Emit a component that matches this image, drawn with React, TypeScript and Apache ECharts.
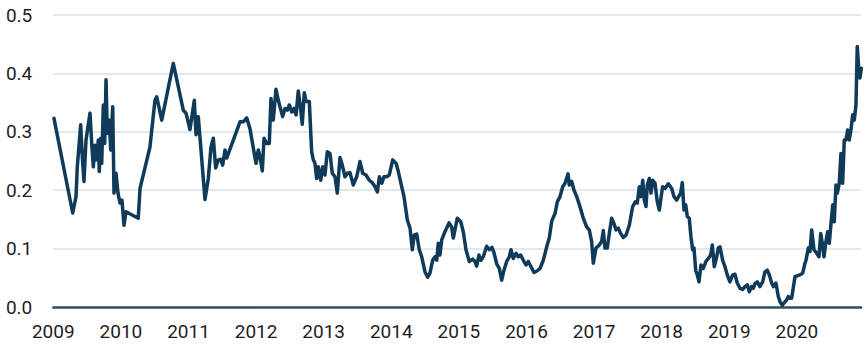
import React, { useEffect, useRef } from "react";
import * as echarts from "echarts";

// Decimal years (x) and series values (y)
const years: number[] = [
  2009.010, 2009.287, 2009.336, 2009.355, 2009.405, 2009.429, 2009.454, 2009.484, 2009.543, 2009.568,
  2009.592, 2009.617, 2009.642, 2009.666, 2009.680, 2009.701, 2009.716, 2009.740, 2009.760, 2009.780,
  2009.799, 2009.828, 2009.849, 2009.879, 2009.898, 2009.928, 2009.957, 2009.987, 2010.016, 2010.046,
  2010.075, 2010.257, 2010.283, 2010.430, 2010.504, 2010.530, 2010.604, 2010.775, 2010.923, 2010.963,
  2011.022, 2011.086, 2011.111, 2011.145, 2011.244, 2011.293, 2011.333, 2011.367, 2011.402, 2011.441,
  2011.476, 2011.506, 2011.540, 2011.565, 2011.762, 2011.811, 2011.861, 2011.910, 2011.959, 2011.999,
  2012.033, 2012.058, 2012.092, 2012.117, 2012.157, 2012.195, 2012.220, 2012.254, 2012.294, 2012.328,
  2012.393, 2012.428, 2012.462, 2012.491, 2012.527, 2012.561, 2012.592, 2012.624, 2012.649, 2012.683,
  2012.713, 2012.738, 2012.787, 2012.822, 2012.846, 2012.871, 2012.896, 2012.920, 2012.956, 2012.985,
  2013.019, 2013.053, 2013.093, 2013.127, 2013.167, 2013.201, 2013.241, 2013.275, 2013.315, 2013.349,
  2013.389, 2013.438, 2013.488, 2013.537, 2013.577, 2013.626, 2013.675, 2013.725, 2013.760, 2013.794,
  2013.824, 2013.860, 2013.892, 2013.932, 2013.970, 2014.021, 2014.070, 2014.104, 2014.154, 2014.188,
  2014.237, 2014.277, 2014.311, 2014.340, 2014.376, 2014.414, 2014.450, 2014.499, 2014.538, 2014.572,
  2014.612, 2014.646, 2014.672, 2014.695, 2014.720, 2014.746, 2014.794, 2014.854, 2014.893, 2014.917,
  2014.942, 2014.976, 2015.027, 2015.065, 2015.105, 2015.154, 2015.204, 2015.238, 2015.263, 2015.297,
  2015.327, 2015.361, 2015.411, 2015.450, 2015.490, 2015.519, 2015.559, 2015.598, 2015.633, 2015.667,
  2015.707, 2015.746, 2015.771, 2015.805, 2015.845, 2015.879, 2015.914, 2015.953, 2015.993, 2016.027,
  2016.067, 2016.111, 2016.160, 2016.200, 2016.249, 2016.299, 2016.337, 2016.373, 2016.422, 2016.456,
  2016.496, 2016.536, 2016.570, 2016.615, 2016.633, 2016.669, 2016.703, 2016.743, 2016.791, 2016.840,
  2016.890, 2016.929, 2016.964, 2016.988, 2017.028, 2017.077, 2017.112, 2017.136, 2017.161, 2017.195,
  2017.225, 2017.260, 2017.294, 2017.324, 2017.358, 2017.393, 2017.432, 2017.472, 2017.521, 2017.571,
  2017.609, 2017.639, 2017.669, 2017.694, 2017.720, 2017.743, 2017.768, 2017.787, 2017.817, 2017.842,
  2017.867, 2017.901, 2017.935, 2017.965, 2018.013, 2018.049, 2018.097, 2018.148, 2018.182, 2018.222,
  2018.281, 2018.305, 2018.330, 2018.355, 2018.379, 2018.408, 2018.433, 2018.459, 2018.478, 2018.503,
  2018.527, 2018.552, 2018.581, 2018.615, 2018.655, 2018.689, 2018.725, 2018.749, 2018.778, 2018.814,
  2018.837, 2018.862, 2018.902, 2018.936, 2018.970, 2019.010, 2019.050, 2019.084, 2019.118, 2019.158,
  2019.198, 2019.232, 2019.266, 2019.296, 2019.331, 2019.355, 2019.380, 2019.414, 2019.453, 2019.494,
  2019.527, 2019.562, 2019.592, 2019.627, 2019.651, 2019.691, 2019.725, 2019.750, 2019.784, 2019.824,
  2019.849, 2019.873, 2019.898, 2019.923, 2019.972, 2020.046, 2020.086, 2020.120, 2020.135, 2020.169,
  2020.194, 2020.219, 2020.253, 2020.293, 2020.327, 2020.353, 2020.376, 2020.401, 2020.430, 2020.456,
  2020.479, 2020.505, 2020.530, 2020.553, 2020.578, 2020.598, 2020.627, 2020.652, 2020.677, 2020.701,
  2020.726, 2020.751, 2020.775, 2020.800, 2020.825, 2020.849, 2020.874, 2020.893, 2020.914, 2020.933,
  2020.953,
];

const values: number[] = [
  0.323, 0.161, 0.189, 0.240, 0.312, 0.257, 0.215, 0.286, 0.332, 0.280,
  0.240, 0.277, 0.252, 0.286, 0.232, 0.289, 0.246, 0.346, 0.280, 0.389,
  0.297, 0.320, 0.269, 0.343, 0.195, 0.229, 0.195, 0.178, 0.183, 0.140,
  0.163, 0.152, 0.203, 0.274, 0.354, 0.360, 0.320, 0.417, 0.337, 0.332,
  0.304, 0.354, 0.295, 0.326, 0.184, 0.220, 0.274, 0.289, 0.238, 0.252,
  0.253, 0.243, 0.269, 0.255, 0.317, 0.317, 0.324, 0.305, 0.272, 0.246,
  0.269, 0.257, 0.233, 0.289, 0.280, 0.280, 0.357, 0.320, 0.373, 0.354,
  0.326, 0.340, 0.337, 0.346, 0.334, 0.340, 0.329, 0.370, 0.349, 0.313,
  0.367, 0.352, 0.352, 0.266, 0.252, 0.246, 0.220, 0.240, 0.217, 0.240,
  0.226, 0.266, 0.263, 0.229, 0.223, 0.195, 0.256, 0.243, 0.223, 0.229,
  0.230, 0.209, 0.223, 0.249, 0.229, 0.226, 0.217, 0.212, 0.206, 0.197,
  0.223, 0.212, 0.223, 0.223, 0.226, 0.252, 0.246, 0.232, 0.206, 0.189,
  0.149, 0.135, 0.098, 0.123, 0.125, 0.098, 0.086, 0.060, 0.051, 0.058,
  0.080, 0.086, 0.080, 0.109, 0.089, 0.115, 0.129, 0.144, 0.137, 0.118,
  0.132, 0.152, 0.146, 0.129, 0.098, 0.078, 0.082, 0.078, 0.070, 0.089,
  0.080, 0.086, 0.104, 0.098, 0.102, 0.093, 0.074, 0.066, 0.046, 0.063,
  0.078, 0.086, 0.098, 0.083, 0.092, 0.086, 0.089, 0.080, 0.072, 0.078,
  0.069, 0.059, 0.062, 0.066, 0.080, 0.103, 0.118, 0.147, 0.160, 0.180,
  0.189, 0.206, 0.212, 0.228, 0.209, 0.215, 0.200, 0.189, 0.172, 0.152,
  0.137, 0.132, 0.112, 0.075, 0.101, 0.106, 0.112, 0.131, 0.101, 0.101,
  0.126, 0.152, 0.143, 0.132, 0.135, 0.126, 0.119, 0.123, 0.140, 0.172,
  0.180, 0.178, 0.206, 0.189, 0.217, 0.183, 0.172, 0.209, 0.220, 0.195,
  0.217, 0.212, 0.180, 0.166, 0.206, 0.203, 0.211, 0.203, 0.189, 0.183,
  0.195, 0.213, 0.166, 0.175, 0.155, 0.152, 0.120, 0.098, 0.101, 0.063,
  0.055, 0.043, 0.072, 0.066, 0.078, 0.083, 0.089, 0.106, 0.069, 0.086,
  0.101, 0.103, 0.080, 0.069, 0.055, 0.043, 0.055, 0.056, 0.041, 0.032,
  0.030, 0.035, 0.038, 0.026, 0.035, 0.032, 0.040, 0.043, 0.035, 0.043,
  0.060, 0.063, 0.055, 0.041, 0.035, 0.041, 0.018, 0.009, 0.003, 0.009,
  0.012, 0.018, 0.015, 0.015, 0.052, 0.055, 0.058, 0.075, 0.080, 0.101,
  0.095, 0.132, 0.098, 0.092, 0.086, 0.126, 0.109, 0.086, 0.112, 0.129,
  0.109, 0.143, 0.175, 0.146, 0.209, 0.195, 0.212, 0.263, 0.212, 0.286,
  0.286, 0.303, 0.286, 0.303, 0.329, 0.320, 0.346, 0.446, 0.411, 0.392,
  0.409, 0.411,
];

const xStart = 2009;
const xEnd = 2020.95;
const yTicks: number[] = [0, 0.1, 0.2, 0.3, 0.4, 0.5];

export default function App() {
  const ref = useRef<HTMLDivElement>(null);

  useEffect(() => {
    if (!ref.current) return;
    const chart = echarts.init(ref.current, undefined, { renderer: "svg" });
    const data = years.map((y, i) => [y, values[i]]);
    chart.setOption({
      animation: false,
      grid: { left: 53.3, right: 5.9, top: 15, bottom: 45, containLabel: false },
      xAxis: {
        type: "value",
        min: xStart,
        max: xEnd,
        interval: 1,
        axisLine: { show: true, onZero: false, lineStyle: { color: "#34505e", width: 2.5 } },
        axisTick: { show: false },
        splitLine: { show: false },
        axisLabel: {
          margin: 15,
          fontFamily: "Roboto",
          fontSize: 19,
          color: "#1e1e1e",
          formatter: (v: number) => (Math.abs(v - Math.round(v)) < 1e-6 ? String(Math.round(v)) : ""),
        },
      },
      yAxis: {
        type: "value",
        min: yTicks[0],
        max: yTicks[yTicks.length - 1],
        interval: 0.1,
        axisLine: { show: false },
        axisTick: { show: false },
        splitLine: { show: true, lineStyle: { color: "#d5e2e9", width: 1.5 } },
        axisLabel: {
          margin: 21,
          fontFamily: "Roboto",
          fontSize: 19,
          color: "#1e1e1e",
          formatter: (v: number) => v.toFixed(1),
        },
      },
      series: [
        {
          type: "line",
          data,
          showSymbol: false,
          symbol: "none",
          clip: false,
          lineStyle: { color: "#0f3a5a", width: 3.5, join: "round", cap: "round" },
          z: 3,
        },
      ],
    });
    return () => chart.dispose();
  }, []);

  return (
    <div
      ref={ref}
      style={{ position: "fixed", left: 0, top: 0, width: 867, height: 352, background: "#ffffff" }}
    />
  );
}
